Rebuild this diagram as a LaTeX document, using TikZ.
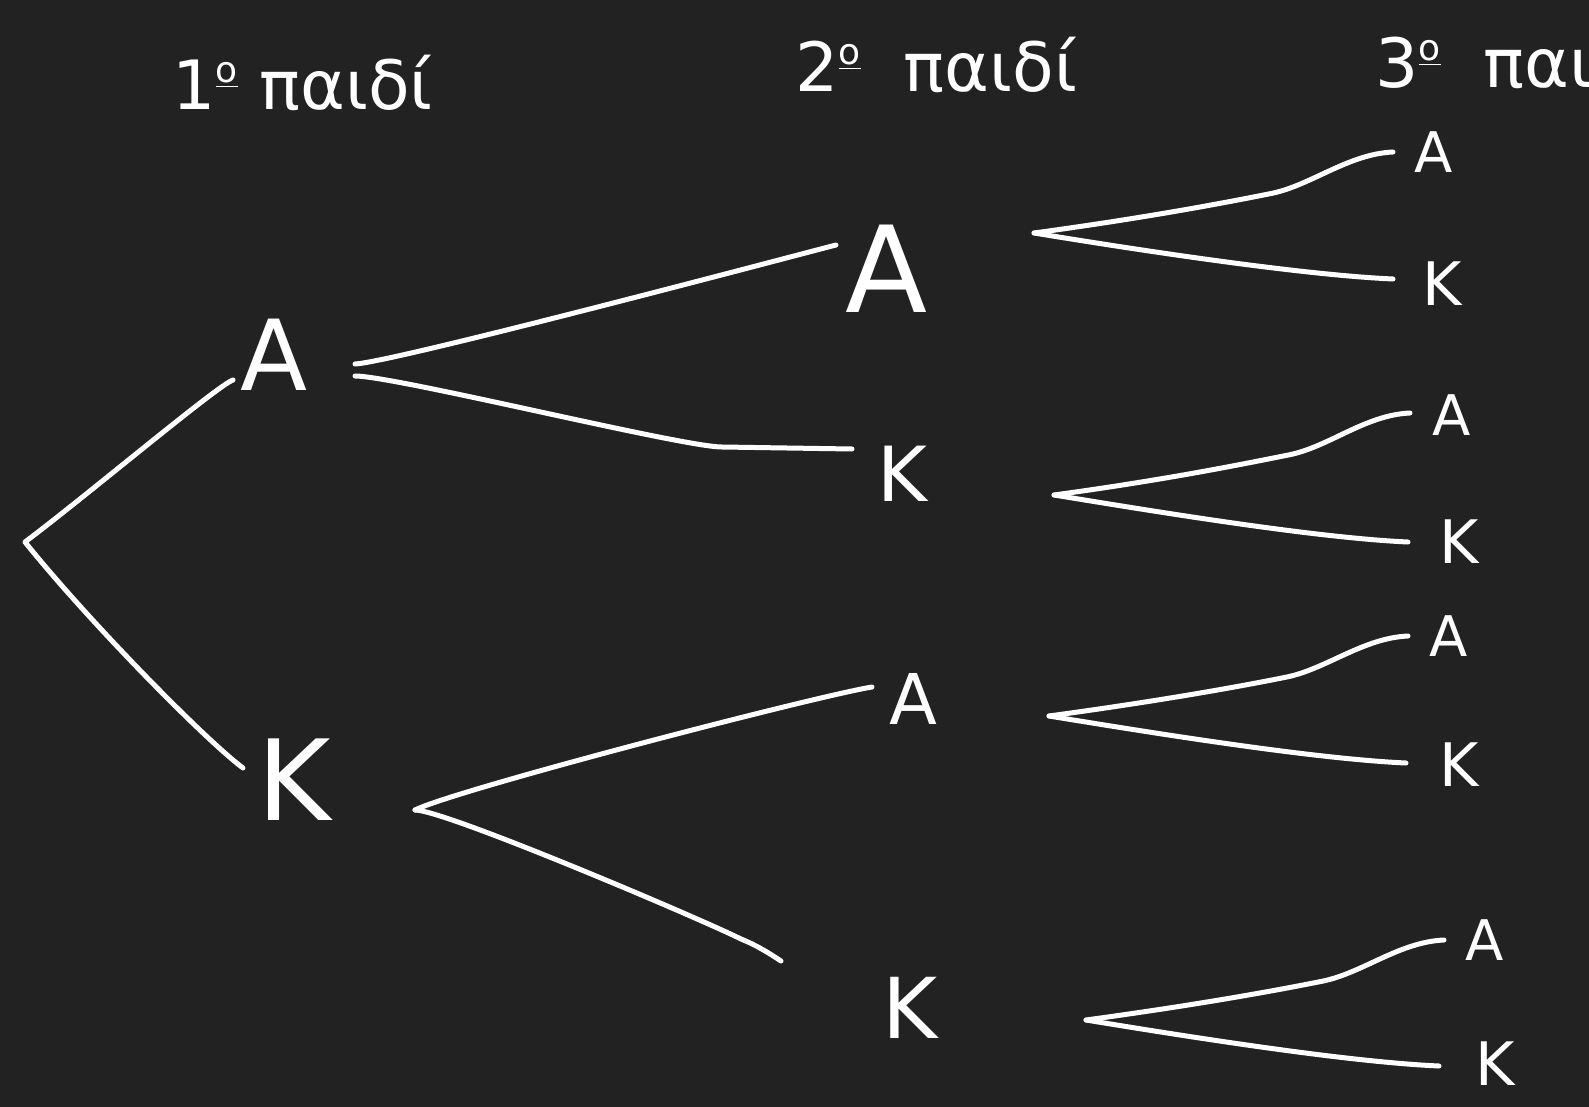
\documentclass[tikz,border=0pt]{standalone}
\usepackage{fontspec}
\setmainfont{DejaVu Sans}
\usetikzlibrary{calc}
\definecolor{bg}{HTML}{222222}
\newcommand\ordo{\raisebox{0.4em}{\fontsize{18}{18}\selectfont\underline{ο}}}
\tikzset{
  ink/.style={draw=white, line width=2.5pt, line cap=round, line join=round},
  lbl/.style={text=white, inner sep=0pt, anchor=center},
  head/.style={text=white, inner sep=0pt, anchor=base west, font=\fontsize{34}{38}\selectfont},
}
\begin{document}
\begin{tikzpicture}[x=0.5pt,y=-0.5pt]
\fill[bg] (0,0) rectangle (1589,1107);
\useasboundingbox (0,0) rectangle (1589,1107);
% headers
\node[head] (h1) at (172,110) {1\ordo\ παιδί};
\node[head] (h2) at (795,92) {2\ordo\ \ παιδί};
\node[head] (h3) at (1375,88) {3\ordo\ \ παιδί};
% labels
\node[lbl, font=\fontsize{49}{50}\selectfont] (A1) at (274,355) {A};
\node[lbl, font=\fontsize{56}{58}\selectfont] (K1) at (294,780) {K};
\node[lbl, font=\fontsize{60}{64}\selectfont] (A2) at (887,269) {A};
\node[lbl, font=\fontsize{38}{40}\selectfont] (K2) at (902,474) {K};
\node[lbl, font=\fontsize{35}{36}\selectfont] (A3) at (913,699) {A};
\node[lbl, font=\fontsize{42}{44}\selectfont] (K3) at (910,1008) {K};
\node[lbl, font=\fontsize{28}{30}\selectfont] (a1) at (1434,152) {A};
\node[lbl, font=\fontsize{30}{32}\selectfont] (k1) at (1442,284) {K};
\node[lbl, font=\fontsize{28}{30}\selectfont] (a2) at (1452,415) {A};
\node[lbl, font=\fontsize{30}{32}\selectfont] (k2) at (1459,542) {K};
\node[lbl, font=\fontsize{28}{30}\selectfont] (a3) at (1449,636) {A};
\node[lbl, font=\fontsize{30}{32}\selectfont] (k3) at (1459,765) {K};
\node[lbl, font=\fontsize{28}{30}\selectfont] (a4) at (1485,940) {A};
\node[lbl, font=\fontsize{30}{32}\selectfont] (k4) at (1495,1064) {K};
% connector points
\coordinate (r) at (25,542);
\coordinate (rA) at (233,380);
\coordinate (rK) at (243,768);
\coordinate (fA1u) at (355,364);
\coordinate (fA1d) at (355,376);
\coordinate (eA2) at (836,245);
\coordinate (eK2) at (852,449);
\coordinate (fK1) at (415,810);
\coordinate (eA3) at (872,687);
\coordinate (eK3) at (781,961);
\coordinate (f1) at (1034,233);
\coordinate (f2) at (1054,495);
\coordinate (f3) at (1049,716);
\coordinate (f4) at (1086,1020);
\coordinate (e1u) at (1393,152);  \coordinate (e1d) at (1393,279);
\coordinate (e2u) at (1410,413);  \coordinate (e2d) at (1408,542);
\coordinate (e3u) at (1408,636);  \coordinate (e3d) at (1406,763);
\coordinate (e4u) at (1444,940);  \coordinate (e4d) at (1439,1066);
% root branches
\draw[ink] (rA) .. controls +(-15,5) and +(60,-45) .. (r)
  .. controls +(60,75) and +(-40,-30) .. (rK);
% level 1 -> 2
\draw[ink] (fA1u) .. controls +(40,-2) and +(-20,5) .. (eA2);
\draw[ink] (fA1d) .. controls +(40,0) and +(-40,0) .. ($(eK2)+(-130,-2)$) -- (eK2);
\draw[ink] (fK1) .. controls +(40,-20) and +(-60,10) .. (eA3);
\draw[ink] (fK1) .. controls +(30,0) and +(-40,-20) .. ($(eK3)+(-40,-22)$) .. controls +(15,6) and +(-12,-8) .. (eK3);
% level 2 -> 3
\foreach \f/\u/\d in {f1/e1u/e1d, f2/e2u/e2d, f3/e3u/e3d, f4/e4u/e4d}{
  \draw[ink] (\f) .. controls +(110,-15) and +(-50,10) .. ($(\f)!0.66!(\u)+(0,14)$)
     .. controls +(40,-8) and +(-45,2) .. (\u);
  \draw[ink] (\f) .. controls +(110,18) and +(-90,-4) .. (\d);
}
\end{tikzpicture}
\end{document}
